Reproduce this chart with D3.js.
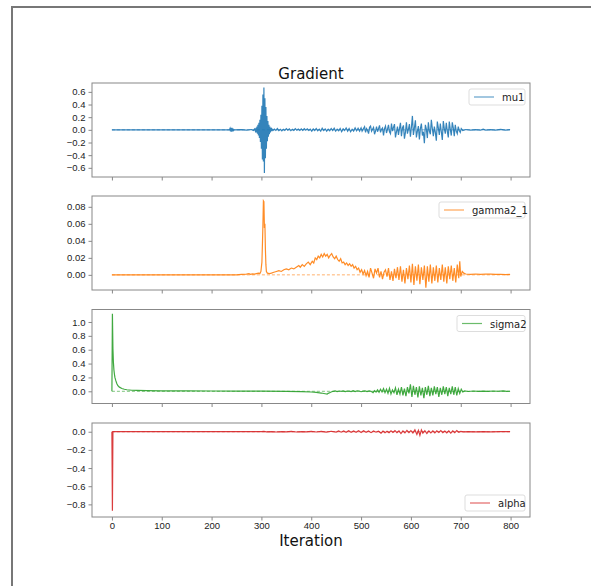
<!DOCTYPE html>
<html>
<head>
<meta charset="utf-8">
<script src="https://cdn.jsdelivr.net/npm/d3@7"></script>
<style>
  body { margin: 0; background: #fff; }
  svg { display: block; font-family: "DejaVu Sans", sans-serif; }
  .axis path, .axis line { stroke: #888; }
  .axis text { fill: #222; font-size: 9.5px; }
</style>
</head>
<body>
<svg id="chart" width="591" height="586"></svg>
<script>
// iteration ticks shared by all panels
var xTicks = [0, 100, 200, 300, 400, 500, 600, 700, 800];

var mu1 = [[0,0],[236,0],[237,0.02],[238,-0.025],[239,0.03],[240,-0.03],[241,0.03],[242,-0.025],[243,0.02],[244,-0.01],[245,0],
  [260,0.003],[270,-0.004],[280,0.005],[284,-0.01],[286,0.015],[288,-0.02],[289,0.03],[290,-0.04],[291,0.05],[292,-0.06],[293,0.08],[294,-0.09],[295,0.11],[296,-0.13],[297,0.16],[298,-0.19],[299,0.24],[300,-0.3],[301,0.38],[302,-0.47],[303,0.56],[304,-0.5],[305,0.67],[306,-0.68],[307,0.5],[308,-0.45],[309,0.36],[310,-0.3],[311,0.22],[312,-0.18],[313,0.14],[314,-0.11],[315,0.08],[316,-0.07],[317,0.05],[318,-0.04],[319,0.03],[320,-0.02],[321,0.015],
  [323,-0.01],[326,0.012],[329,-0.008],[332,0.02],[335,-0.012],[338,0.008],[341,-0.015],[344,0.01],[347,-0.01],[350,0.02],[353,-0.005],[356,0.015],[359,-0.012],[362,0.01],[365,-0.01],[368,0.018],[371,-0.006],[374,0.012],[377,-0.01],[380,0.014],[383,-0.008],[386,0.02],[389,-0.005],[392,0.015],[395,-0.01],[398,0.01],
  [401,-0.02],[404,0.015],[407,-0.01],[410,0.02],[413,-0.015],[416,0.01],[419,-0.02],[422,0.025],[425,-0.01],[428,0.015],[431,-0.02],[434,0.01],[437,-0.015],[440,0.02],[443,-0.01],[446,0.025],[449,-0.02],[452,0.01],[455,-0.015],[458,0.02],[461,-0.03],[464,0.015],[467,-0.01],[470,0.03],[473,-0.02],[476,0.02],[479,-0.03],[482,0.01],[485,-0.02],[488,0.03],[491,-0.015],[494,0.025],[497,-0.02],
  [500,0.03],[502,-0.02],[504,0.01],[507,0.05],[509,-0.04],[511,0.02],[513,-0.01],[515,-0.06],[517,0.04],[519,0.06],[521,-0.02],[523,0.01],[525,0.04],[527,-0.07],[529,-0.02],[531,0.05],[533,-0.03],[535,0.02],[537,0.07],[539,-0.04],[541,0.01],[543,0.03],[545,-0.09],[547,0.02],[549,0.06],[551,-0.05],[553,0.01],[555,0.08],[557,-0.03],[559,-0.06],
  [561,0.1],[563,-0.02],[565,0.04],[567,0.09],[569,-0.12],[571,-0.03],[573,0.05],[575,-0.08],[577,0.02],[579,0.11],[581,-0.1],[583,0.03],[585,0.07],[587,-0.14],[589,-0.04],[591,0.12],[593,-0.06],[595,0.01],[597,0.09],[599,-0.11],[601,0.04],[603,0.22],[605,-0.08],[607,0.03],[609,0.15],[611,-0.12],[613,-0.02],[615,0.06],[617,-0.15],[619,0.02],[621,0.1],[623,-0.09],[625,-0.03],[627,-0.21],[629,0.08],[631,0.01],[633,-0.13],[635,0.12],[637,-0.02],[639,-0.07],[641,0.16],[643,0.02],[645,-0.1],[647,0.05],[649,-0.04],[651,-0.17],[653,0.13],[655,0.03],[657,-0.08],[659,0.1],[661,-0.03],[663,-0.16],[665,0.14],[667,0.02],[669,-0.06],[671,0.11],[673,-0.02],[675,-0.12],[677,0.13],[679,0.01],[681,-0.09],[683,0.12],[685,0.03],[687,-0.1],[689,0.08],[691,-0.02],[693,-0.06],[695,0.05],[697,-0.01],[699,-0.04],[701,0.02],[704,-0.01],
  [710,0.005],[720,-0.005],[730,0.003],[740,-0.004],[745,0.01],[750,-0.003],[760,0.004],[770,-0.004],[780,0.006],[790,-0.003],[799,0.002]];

var gamma2_1 = [[0,0],[250,0],[260,0.0005],[270,0.0008],[275,0.0015],[278,0.0007],[282,0.0012],[286,0.0009],[290,0.0015],[294,0.002],[297,0.0015],[299,0.004],[301,0.015],[302,0.035],[303,0.058],[304,0.087],[305,0.086],[306,0.055],[307,0.06],[308,0.03],[309,0.012],[310,0.004],[312,0.002],[316,0.0015],
  [320,0.002],[325,0.003],[330,0.004],[335,0.005],[340,0.004],[345,0.006],[350,0.007],[355,0.006],[360,0.008],[365,0.007],[370,0.009],[375,0.011],[378,0.009],[382,0.012],[386,0.01],[390,0.013],[394,0.015],[398,0.012],[402,0.016],[405,0.014],[408,0.02],[411,0.018],[414,0.022],[417,0.02],[420,0.024],[423,0.021],[426,0.025],[429,0.022],[432,0.024],[435,0.02],[438,0.023],[441,0.025],[444,0.021],[447,0.019],[450,0.022],[453,0.018],[456,0.016],[459,0.019],[462,0.014],[465,0.015],[468,0.012],[471,0.014],[474,0.011],[477,0.013],[480,0.01],[483,0.012],[486,0.008],[489,0.01],[492,0.006],[495,0.008],[498,0.003],[501,0.006],[504,0.001],[507,0.005],[510,-0.001],[513,0.004],[516,-0.003],[519,0.008],[522,0.002],[525,-0.004],[528,0.007],[531,0.002],[534,0.008],[537,-0.003],[540,0.004],[543,-0.005],[546,0.003],
  [549,0.006],[552,-0.002],[555,0.008],[558,-0.006],[561,0.004],[564,-0.007],[567,0.007],[570,-0.004],[573,0.009],[576,-0.006],[579,0.01],[582,-0.008],[585,0.006],[588,-0.01],[591,0.008],[594,-0.005],[597,0.011],[600,-0.009],[603,0.013],[606,-0.012],[609,0.01],[612,-0.007],[615,0.012],[618,-0.011],[621,0.009],[624,-0.006],[627,0.011],[630,-0.015],[633,0.01],[636,-0.008],[639,0.012],[642,-0.01],[645,0.009],[648,-0.007],[651,0.011],[654,-0.009],[657,0.008],[660,-0.006],[663,0.012],[666,-0.008],[669,0.009],[672,-0.01],[675,0.01],[678,-0.005],[681,0.011],[684,-0.007],[687,0.008],[690,-0.009],[693,0.012],[696,-0.004],[698,0.016],[700,-0.002],
  [703,0.004],[706,0.002],[710,0.001],[720,0.0005],[730,0.001],[740,0.0005],[750,0.001],[760,0.0008],[770,0.0005],[780,0.0007],[790,0.0003],[799,0.0005]];

var sigma2 = [[0,0],[1,1.12],[2,0.62],[3,0.42],[4,0.31],[5,0.25],[6,0.2],[8,0.15],[10,0.11],[12,0.08],[15,0.06],[20,0.04],[25,0.03],[30,0.022],[40,0.015],[50,0.012],[70,0.009],[100,0.007],[150,0.005],[200,0.004],[250,0.003],[300,0.002],[350,0.0],
  [380,-0.005],[400,-0.01],[410,-0.015],[420,-0.025],[428,-0.035],[432,-0.04],[434,-0.03],[437,-0.02],[440,-0.01],[444,0.0],[448,0.005],[452,-0.003],[456,0.004],[460,0.0],[464,0.006],[468,-0.004],[472,0.003],[476,0.002],[480,-0.003],[484,0.008],[488,-0.005],[492,0.006],[496,0.004],[500,-0.006],[504,0.002],[508,0.007],[512,-0.003],[516,0.005],[520,0.0],
  [524,-0.02],[527,0.01],[530,-0.01],[533,0.02],[536,-0.015],[539,0.03],[542,-0.01],[545,0.04],[548,-0.02],[551,0.03],[554,-0.03],[557,0.045],[560,-0.04],[563,0.02],[566,-0.02],[569,0.05],[572,-0.05],[575,0.03],[578,-0.04],[581,0.06],[584,-0.06],[587,0.04],[590,-0.07],[593,0.06],[596,-0.03],[599,0.1],[602,-0.08],[605,0.08],[608,-0.05],[611,0.06],[614,-0.09],[617,0.07],[620,-0.06],[623,0.05],[626,-0.1],[629,0.06],[632,-0.05],[635,0.08],[638,-0.07],[641,0.05],[644,-0.06],[647,0.07],[650,-0.04],[653,0.06],[656,-0.08],[659,0.05],[662,-0.05],[665,0.07],[668,-0.04],[671,0.06],[674,-0.07],[677,0.05],[680,-0.04],[683,0.07],[686,-0.05],[689,0.06],[692,-0.06],[695,0.04],[698,-0.03],[701,0.03],[704,-0.01],
  [708,0.005],[715,-0.003],[725,0.004],[735,-0.002],[745,0.003],[755,-0.002],[765,0.004],[775,0.001],[785,0.005],[792,-0.002],[799,0.001]];

var alpha = [[0,0],[1,-0.87],[2,0],[300,0],[305,0.003],[310,-0.002],[320,0.002],[330,-0.003],[340,0.002],[350,-0.002],[360,0.003],[370,-0.003],[380,0.002],[390,-0.002],[400,0.004],[410,-0.003],[420,0.003],[430,-0.004],[440,0.005],[450,-0.004],
  [455,0.008],[460,-0.005],[465,0.009],[470,-0.006],[475,0.01],[480,-0.006],[485,0.008],[490,-0.007],[495,0.012],[500,-0.008],[505,0.01],[510,-0.006],[515,0.009],[520,-0.01],[525,0.008],[530,-0.005],[535,0.006],[540,-0.015],[544,0.008],[548,-0.01],[552,0.006],[556,-0.012],[560,0.01],[564,-0.008],[568,0.012],[572,-0.01],[576,0.009],[580,-0.02],[584,0.01],[588,-0.012],[592,0.014],[596,-0.01],[600,0.012],[604,-0.015],[608,0.02],[612,-0.03],[615,0.015],[618,-0.04],[621,0.02],[624,-0.015],[628,0.012],[632,-0.02],[636,0.01],[640,-0.012],[644,0.009],[648,-0.014],[652,0.01],[656,-0.008],[660,0.012],[664,-0.01],[668,0.008],[672,-0.012],[676,0.009],[680,-0.015],[684,0.01],[688,-0.01],[692,0.012],[696,-0.006],[700,0.004],
  [705,-0.002],[715,0.001],[730,-0.001],[745,0.001],[760,-0.001],[780,0.001],[799,0]];

var panels = [
  {name: "mu1", data: mu1, color: "#1f77b4", domain: [-0.745, 0.74], ticks: [-0.6,-0.4,-0.2,0,0.2,0.4,0.6], fmt: ".1f", legend: "top", lw: 56},
  {name: "gamma2_1", data: gamma2_1, color: "#ff7f0e", domain: [-0.0178, 0.0927], ticks: [0,0.02,0.04,0.06,0.08], fmt: ".2f", legend: "top", lw: 86},
  {name: "sigma2", data: sigma2, color: "#2ca02c", domain: [-0.176, 1.18], ticks: [0,0.2,0.4,0.6,0.8,1.0], fmt: ".1f", legend: "top", lw: 68},
  {name: "alpha", data: alpha, color: "#d62728", domain: [-0.939, 0.096], ticks: [-0.8,-0.6,-0.4,-0.2,0], fmt: ".1f", legend: "bottom", lw: 60}
];

var svg = d3.select("#chart"),
    left = 92, right = 530,
    tops = [83, 196, 309.5, 423],
    ph = 94;

// outer frame
svg.append("path").attr("d", "M12,586V7H591").attr("fill", "none").attr("stroke", "#777").attr("stroke-width", 2);

var x = d3.scaleLinear().domain([-39.95, 838.95]).range([left, right]);
var minus = function(s) { return s.replace("-", "\u2212"); };

panels.forEach(function(p, i) {
  var g = svg.append("g").attr("transform", "translate(0," + tops[i] + ")");
  var y = d3.scaleLinear().domain(p.domain).range([ph, 0]);

  g.append("g").attr("class", "axis")
    .attr("transform", "translate(0," + ph + ")")
    .call(d3.axisBottom(x).tickValues(xTicks).tickSize(3.5).tickPadding(2).tickSizeOuter(0)
      .tickFormat(i === 3 ? d3.format("d") : ""))
    .call(function(a) { a.select(".domain").remove(); });

  g.append("g").attr("class", "axis")
    .attr("transform", "translate(" + left + ",0)")
    .call(d3.axisLeft(y).tickValues(p.ticks).tickSize(3.5).tickPadding(3)
      .tickFormat(function(d) { return minus(d3.format(p.fmt)(d)); }))
    .call(function(a) { a.select(".domain").remove(); });

  // zero reference line
  g.append("line")
    .attr("x1", x(0)).attr("x2", x(800))
    .attr("y1", y(0)).attr("y2", y(0))
    .attr("stroke", p.color).attr("stroke-opacity", 0.6)
    .attr("stroke-dasharray", "3,2").attr("stroke-width", 1);

  var line = d3.line().x(function(d) { return x(d[0]); }).y(function(d) { return y(d[1]); });
  g.append("path").datum(p.data)
    .attr("d", line)
    .attr("fill", "none").attr("stroke", p.color)
    .attr("stroke-opacity", 0.9).attr("stroke-width", 1.2);

  g.append("rect")
    .attr("x", left).attr("y", 0).attr("width", right - left).attr("height", ph)
    .attr("fill", "none").attr("stroke", "#888").attr("stroke-width", 1);

  // legend
  var lx = right - 5 - p.lw,
      ly = p.legend === "top" ? 6 : ph - 6 - 16;
  var lg = g.append("g").attr("transform", "translate(" + lx + "," + ly + ")");
  lg.append("rect").attr("width", p.lw).attr("height", 16).attr("rx", 2)
    .attr("fill", "#fff").attr("fill-opacity", 0.8).attr("stroke", "#ddd");
  lg.append("line").attr("x1", 5).attr("x2", 25).attr("y1", 8).attr("y2", 8)
    .attr("stroke", p.color).attr("stroke-opacity", 0.7).attr("stroke-width", 1.2);
  lg.append("text").attr("x", 33).attr("y", 12).attr("font-size", "10px").attr("fill", "#222").text(p.name);

  if (i === 0) {
    g.append("text").attr("x", (left + right) / 2).attr("y", -4)
      .attr("text-anchor", "middle").attr("font-size", "15px").attr("fill", "#111").text("Gradient");
  }
});

svg.append("text").attr("x", (left + right) / 2).attr("y", 546)
  .attr("text-anchor", "middle").attr("font-size", "15px").attr("fill", "#111").text("Iteration");
</script>
</body>
</html>
